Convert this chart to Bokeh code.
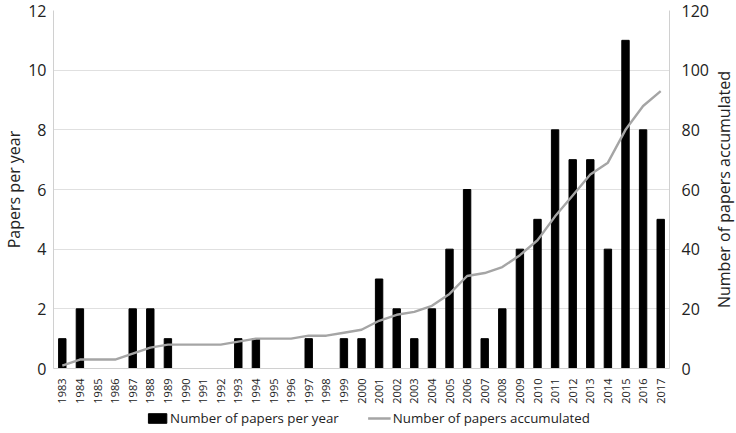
import math
from bokeh.plotting import figure
from bokeh.layouts import column, row
from bokeh.core.properties import value
from bokeh.models import (ColumnDataSource, FactorRange, Range1d, LinearAxis,
                          FixedTicker, Legend, LegendItem)
from bokeh.embed import file_html
from bokeh.resources import INLINE

years = [str(y) for y in range(1983, 2018)]
papers_per_year = [1, 2, 0, 0, 2, 2, 1, 0, 0, 0, 1, 1, 0, 0, 1, 0, 1, 1, 3, 2,
                   1, 2, 4, 6, 1, 2, 4, 5, 8, 7, 7, 4, 11, 8, 5]
papers_accumulated = [1, 3, 3, 3, 5, 7, 8, 8, 8, 8, 9, 10, 10, 10, 11, 11, 12, 13,
                      16, 18, 19, 21, 25, 31, 32, 34, 38, 43, 51, 58, 65, 69, 80,
                      88, 93]
left_ticks = [0, 2, 4, 6, 8, 10, 12]
right_ticks = [0, 20, 40, 60, 80, 100, 120]
series_names = ["Number of papers per year", "Number of papers accumulated"]
left_title = "Papers per year"
right_title = "Number of papers accumulated"

src = ColumnDataSource(dict(year=years, per=papers_per_year, acc=papers_accumulated))

FONT = "Open Sans"
TXT = "#222222"
BAR_COLOR = "black"
LINE_COLOR = "#a5a5a5"
AXIS_COLOR = "#d0d0d0"

MAIN_W, MAIN_H, RLAB_W, LEG_H = 711, 406, 24, 24

p = figure(width=MAIN_W, height=MAIN_H, x_range=FactorRange(*years, range_padding=0),
           y_range=Range1d(0, 12), output_backend="svg", toolbar_location=None,
           min_border_left=0, min_border_right=41, min_border_top=10,
           min_border_bottom=10)
p.extra_y_ranges = {"acc": Range1d(0, 120)}

bars = p.vbar(x="year", top="per", width=0.42, source=src, color=BAR_COLOR)
line = p.line(x="year", y="acc", source=src, y_range_name="acc",
              line_color=LINE_COLOR, line_width=2.4)

p.outline_line_color = None
p.xgrid.grid_line_color = None
p.ygrid.grid_line_color = "#e0e0e0"
p.ygrid.ticker = FixedTicker(ticks=left_ticks)

# left axis
ya = p.yaxis[0]
ya.ticker = FixedTicker(ticks=left_ticks)
ya.axis_label = left_title
ya.axis_label_text_font = FONT
ya.axis_label_text_font_style = "normal"
ya.axis_label_text_font_size = "16px"
ya.axis_label_text_color = TXT
ya.axis_label_standoff = 0
ya.major_label_standoff = 1
ya.major_label_text_font = FONT
ya.major_label_text_font_size = "16px"
ya.major_label_text_color = TXT
ya.major_tick_line_color = None
ya.minor_tick_line_color = None
ya.axis_line_color = AXIS_COLOR

# right axis (title drawn in a narrow strip so it reads bottom-to-top)
ra = LinearAxis(y_range_name="acc", ticker=FixedTicker(ticks=right_ticks))
ra.major_label_standoff = 6
ra.major_label_text_font = FONT
ra.major_label_text_font_size = "16px"
ra.major_label_text_color = TXT
ra.major_tick_line_color = None
ra.minor_tick_line_color = None
ra.axis_line_color = AXIS_COLOR
p.add_layout(ra, "right")

# x axis
xa = p.xaxis[0]
xa.major_label_orientation = math.pi / 2
xa.major_label_text_font = FONT
xa.major_label_text_font_size = "11px"
xa.major_label_text_color = TXT
xa.major_label_standoff = 4
xa.major_tick_line_color = None
xa.axis_line_color = AXIS_COLOR

# right title strip
rl = figure(width=RLAB_W, height=MAIN_H, x_range=Range1d(0, 1), y_range=Range1d(0, 1),
            output_backend="svg", toolbar_location=None,
            min_border_left=0, min_border_right=0, min_border_top=0,
            min_border_bottom=28)
rl.axis.visible = False
rl.grid.visible = False
rl.outline_line_color = None
rl.text(x=[0.5], y=[0.5], text=[right_title], angle=math.pi / 2,
        text_align="center", text_baseline="middle", text_font=value(FONT),
        text_font_size="16px", text_color=TXT)

# legend strip below (same data, ranges put the marks far out of view)
lg = figure(width=MAIN_W + RLAB_W, height=LEG_H, x_range=FactorRange(*years),
            y_range=Range1d(5000, 5001), output_backend="svg", toolbar_location=None,
            min_border_left=0, min_border_right=0, min_border_top=0,
            min_border_bottom=0)
lg.axis.visible = False
lg.grid.visible = False
lg.outline_line_color = None
lb = lg.vbar(x="year", top="per", width=0.42, source=src, color=BAR_COLOR)
ll = lg.line(x="year", y="acc", source=src, line_color=LINE_COLOR, line_width=2.4)
legend = Legend(items=[LegendItem(label=series_names[0], renderers=[lb]),
                       LegendItem(label=series_names[1], renderers=[ll])],
                orientation="horizontal", location="center")
legend.label_text_font = FONT
legend.label_text_font_size = "13.3px"
legend.label_text_color = TXT
legend.glyph_width = 23
legend.glyph_height = 12
legend.label_height = 14
legend.label_standoff = 2
legend.spacing = 29
legend.padding = 0
legend.margin = 0
legend.border_line_color = None
legend.background_fill_alpha = 0
lg.add_layout(legend)

layout = column(row(p, rl, spacing=0), lg, spacing=0)
open("out.html", "w").write(file_html(layout, INLINE))
